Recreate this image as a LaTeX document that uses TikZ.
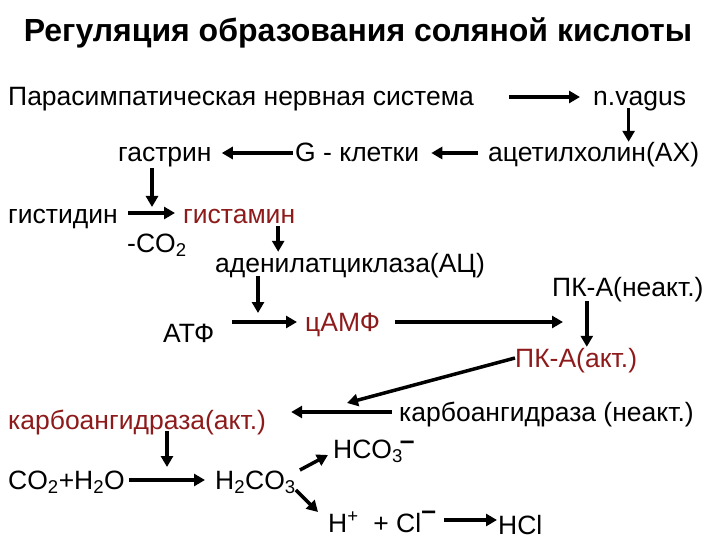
\documentclass[tikz,border=0pt]{standalone}
\usepackage{fontspec}
\setmainfont{Liberation Sans}
\usetikzlibrary{arrows.meta}
\definecolor{hclred}{HTML}{8E1B1B}
\newcommand\ionsub[2]{\textsubscript{#1}\kern-3pt\raisebox{9pt}{\textbf{#2}}}

\begin{document}
\begin{tikzpicture}[x=1pt, y=-1pt,
    every node/.style={font=\fontsize{26.5}{30}\selectfont, inner sep=0pt,
      text height=20pt, text depth=2pt},
    term/.style={anchor=west},
    active/.style={term, text=hclred},
    flow/.style={-{Triangle[length=11pt, width=12pt]}, line width=3.5pt},
  ]
  \useasboundingbox (0,0) rectangle (720,540);

  \node[font=\bfseries\fontsize{32}{36}\selectfont] (title) at (358,33)
    {Регуляция образования соляной кислоты};

  \node[term] (para) at (8,97) {Парасимпатическая нервная система};
  \node[term] (vagus) at (593,97) {n.vagus};
  \node[term] (ach) at (488,153) {ацетилхолин(АХ)};
  \node[term] (gcell) at (295,153) {G - клетки};
  \node[term] (gastrin) at (118,153) {гастрин};
  \node[term] (histidine) at (8,215) {гистидин};
  \node[active] (histamine) at (183,215) {гистамин};
  \node[term] (decarb) at (127,243) {-CO\textsubscript{2}};
  \node[term] (ac) at (215,263) {аденилатциклаза(АЦ)};
  \node[term] (pkin) at (552,287) {ПК-А(неакт.)};
  \node[term] (atp) at (163,333) {АТФ};
  \node[active] (camp) at (305,322) {цАМФ};
  \node[active] (pkact) at (515,358) {ПК-А(акт.)};
  \node[term] (cainact) at (399,412) {карбоангидраза (неакт.)};
  \node[active] (caact) at (8,420) {карбоангидраза(акт.)};
  \node[term] (co2h2o) at (8,480) {CO\textsubscript{2}+H\textsubscript{2}O};
  \node[term] (h2co3) at (215,480) {H\textsubscript{2}CO\textsubscript{3}};
  \node[term] (hco3) at (333,449) {HCO\ionsub{3}{–}};
  \node[term] (ions) at (328,523) {H\textsuperscript{+} \ + Cl\raisebox{13pt}{\textbf{–}}};
  \node[term] (hcl) at (498,525) {HCl};

  \coordinate (histstep) at (152,207);
  \coordinate (campstep) at (258,313);
  \coordinate (pkstep) at (563,322);
  \coordinate (castep) at (347,403);
  \coordinate (carbstep) at (167,467);

  \draw[flow, shorten <=35pt, shorten >=13pt] (para.east) -- (vagus.west);
  \draw[flow] ([xshift=-11pt]vagus.south) -- ([xshift=-11pt]vagus.south |- ach.north);
  \draw[flow, shorten <=10pt, shorten >=12pt] (ach.west) -- (gcell.east);
  \draw[flow, shorten <=2pt, shorten >=10pt] (gcell.west) -- (gastrin.east);
  \draw[flow, shorten <=4pt] (gastrin.south -| histstep) -- (histstep);
  \draw[flow, shorten <=10pt, shorten >=8pt] ([yshift=2pt]histidine.east) -- ([yshift=2pt]histamine.west);
  \draw[flow] ([xshift=39pt]histamine.south) -- ([xshift=39pt]histamine.south |- ac.north);
  \draw[flow, shorten <=2pt] (ac.south -| campstep) -- (campstep);
  \draw[flow, shorten <=18pt, shorten >=8pt] (atp.east |- camp.west) -- (camp.west);
  \draw[flow, shorten <=15pt] (camp.east) -- (pkstep);
  \draw[flow, shorten <=3pt] ([xshift=-41pt]pkin.south) -- ([xshift=-41pt]pkin.south |- pkact.north);
  \draw[flow] (pkact.west) -- (castep);
  \draw[flow, shorten <=7pt, shorten >=25pt] (cainact.west) -- (cainact.west -| caact.east);
  \draw[flow] (caact.south -| carbstep) -- (carbstep);
  \draw[flow, shorten <=4pt, shorten >=10pt] (co2h2o.east) -- (h2co3.west);
  \draw[flow] ([shift={(4pt,10pt)}]h2co3.east) -- ([shift={(-5pt,-6pt)}]hco3.west);
  \draw[flow] ([yshift=-10pt]h2co3.east) -- ([shift={(-10pt,11pt)}]ions.west);
  \draw[flow, shorten <=8pt, shorten >=1pt] ([yshift=3pt]ions.east) -- ([yshift=5pt]hcl.west);
\end{tikzpicture}
\end{document}
